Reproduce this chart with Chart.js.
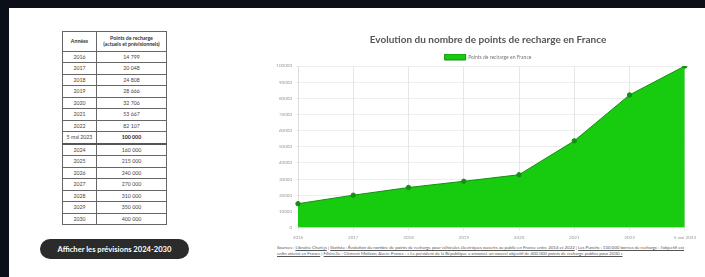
<!DOCTYPE html>
<html lang="fr">
<head>
<meta charset="utf-8">
<script src="https://cdn.jsdelivr.net/npm/chart.js@4"></script>
<style>
  html, body { margin: 0; padding: 0; }
  body {
    width: 705px; height: 277px; overflow: hidden;
    background: #0b0f17; font-family: Lato, "Open Sans", sans-serif;
    position: relative;
  }
  .card {
    position: absolute; left: 9px; top: 8px; right: 0; bottom: 0;
    background: #fff;
  }
  table {
    position: absolute; left: 62px; top: 31px; width: 105px;
    border-collapse: collapse; font-size: 5.2px; color: #444;
  }
  td, th { border: 1px solid #666; text-align: center; padding: 0; height: 10.5px; }
  th { height: 18.7px; font-weight: bold; color: #333; line-height: 6px; }
  td.b { font-weight: bold; color: #222; }
  tr.sep td { border-bottom: 2px solid #555; }
  .btn {
    position: absolute; left: 40px; top: 239px; width: 149px; height: 20px;
    background: #2b2b2b; border-radius: 10px; color: #fff;
    font-size: 7.6px; font-weight: bold; text-align: center; line-height: 20px;
  }
  #wrap { position: absolute; left: 260px; top: 25px; width: 440px; height: 219px; }
  .src {
    position: absolute; left: 277px; top: 245px; width: 414px;
    font-size: 4.4px; line-height: 5.6px; color: #555;
  }
  .src a { color: #555; text-decoration: underline; }
</style>
</head>
<body>
<div class="card"></div>
<table id="tbl"></table>
<div class="btn">Afficher les prévisions 2024-2030</div>
<div id="wrap"><canvas id="chart"></canvas></div>
<div class="src">Sources : <a>Librairie Chart.js</a> | <a>Statista : Évolution du nombre de points de recharge pour véhicules électriques ouverts au public en France entre 2014 et 2022</a> | <a>Les Punchs : 100 000 bornes de recharge : l'objectif est enfin atteint en France</a> | <a>Filière3e : Clément Molizon, Avere-France : « Le président de la République a annoncé un nouvel objectif de 400 000 points de recharge publics pour 2030 »</a></div>
<script>
// Chart data
const labels = ["2016", "2017", "2018", "2019", "2020", "2021", "2022", "5 mai 2023"];
const points = [14799, 20048, 24808, 28666, 32706, 53667, 82107, 100000];

// Table data (actual + forecast)
const tableYears = ["2016", "2017", "2018", "2019", "2020", "2021", "2022", "5 mai 2023",
  "2024", "2025", "2026", "2027", "2028", "2029", "2030"];
const tableValues = ["14 799", "20 048", "24 808", "28 666", "32 706", "53 667", "82 107", "100 000",
  "160 000", "215 000", "240 000", "270 000", "310 000", "350 000", "400 000"];

function renderTable() {
  const tbl = document.getElementById("tbl");
  let html = "<tr><th style='width:33px'>Années</th><th>Points de recharge<br>(actuels et prévisionnels)</th></tr>";
  tableYears.forEach((y, i) => {
    const last = y.indexOf("mai") >= 0;
    html += `<tr${last ? " class='sep'" : ""}><td>${y}</td><td${last ? " class='b'" : ""}>${tableValues[i]}</td></tr>`;
  });
  tbl.innerHTML = html;
}

// legend has a fixed 10px gap below it in v4, trim it; and nudge title/legend right
const tweakPlugin = {
  id: "tweak",
  beforeLayout(chart) {
    const lg = chart.legend;
    if (lg && !lg._patched) {
      const fit = lg.fit.bind(lg);
      lg.fit = function () { fit(); this.height -= 4; };
      lg._patched = true;
    }
  },
  afterLayout(chart) {
    [chart.titleBlock, chart.legend].forEach((b) => {
      if (b) { b.left += 14; b.right += 14; }
    });
  },
};

function renderChart() {
  const ctx = document.getElementById("chart").getContext("2d");
  new Chart(ctx, {
    type: "line",
    data: {
      labels: labels,
      datasets: [{
        label: "Points de recharge en France",
        data: points,
        borderColor: "#158f14",
        backgroundColor: "#17cc0f",
        borderWidth: 1,
        fill: true,
        tension: 0,
        pointBackgroundColor: "#158f14",
        pointBorderColor: "#158f14",
        pointRadius: 2.2,
      }],
    },
    plugins: [tweakPlugin],
    options: {
      responsive: true,
      maintainAspectRatio: false,
      animation: false,
      layout: { padding: { left: 0, right: 12, top: 7, bottom: 0 } },
      plugins: {
        title: {
          display: true,
          text: "Evolution du nombre de points de recharge en France",
          color: "#555",
          font: { family: "Lato", size: 10, weight: "bold" },
          padding: { top: 2, bottom: 8 },
        },
        legend: {
          labels: {
            boxWidth: 21, boxHeight: 6, padding: 0,
            color: "#777",
            font: { family: "Lato", size: 5 },
          },
        },
        tooltip: { enabled: false },
      },
      scales: {
        y: {
          min: 0, max: 100000,
          afterFit: (s) => { s.width = 38; },
          ticks: {
            stepSize: 10000,
            color: "#999",
            font: { family: "Lato", size: 4.5 },
            padding: 4,
            callback: (v) => String(v),
          },
          grid: { color: "#eeeeee", tickLength: 2 },
          border: { color: "#ddd" },
        },
        x: {
          ticks: {
            color: "#999",
            maxRotation: 0,
            padding: 4,
            font: { family: "Lato", size: 4.5 },
          },
          grid: { color: "#e6e6e6", tickLength: 3 },
          border: { color: "#ddd" },
        },
      },
    },
  });
}

document.addEventListener("DOMContentLoaded", () => {
  renderTable();
  renderChart();
});
</script>
</body>
</html>
